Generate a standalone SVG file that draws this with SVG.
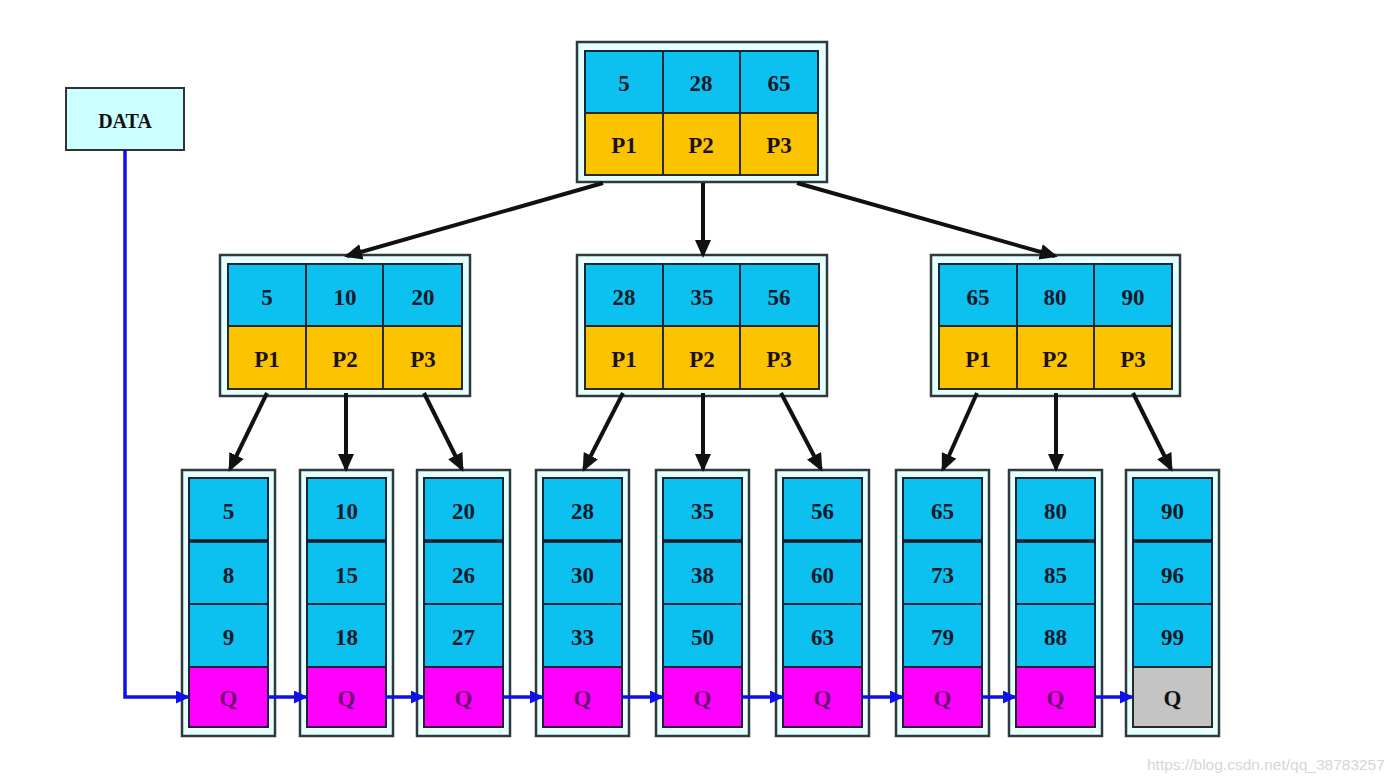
<svg xmlns="http://www.w3.org/2000/svg" width="1400" height="782" viewBox="0 0 1400 782">
<style>
.outer{fill:#e6ffff;stroke:#2f3a3a;stroke-width:2.5}
.k{fill:#0cc0f0;stroke:#13263a;stroke-width:2}
.p{fill:#fcc400;stroke:#2a2a20;stroke-width:2}
.q{fill:#ff00ff;stroke:#2a1a3a;stroke-width:2}
.g{fill:#c4c4c4;stroke:#2a2a2a;stroke-width:2}
.sep{stroke:#0d1a2a;stroke-width:3.5}
.t{font-family:"Liberation Serif","Times New Roman",serif;font-weight:bold;font-size:23px;text-anchor:middle;fill:#0d1a2a}
.tp{font-family:"Liberation Serif","Times New Roman",serif;font-weight:bold;font-size:23px;text-anchor:middle;fill:#1a1208}
.tq{font-family:"Liberation Serif","Times New Roman",serif;font-weight:bold;font-size:23px;text-anchor:middle;fill:#6a1070}
.tg{font-family:"Liberation Serif","Times New Roman",serif;font-weight:bold;font-size:23px;text-anchor:middle;fill:#111}
.blk{stroke:#111;stroke-width:4;fill:none;marker-end:url(#ab)}
.blu{stroke:#1010e8;stroke-width:3.5;fill:none;marker-end:url(#au)}
.wm{font-family:"Liberation Sans",Arial,sans-serif;font-size:15.5px;fill:#d6d6d6}
</style>
<defs>
<marker id="ab" markerUnits="userSpaceOnUse" markerWidth="18" markerHeight="16" refX="15" refY="8" orient="auto"><path d="M0,0 L18,8 L0,16 z" fill="#111"/></marker>
<marker id="au" markerUnits="userSpaceOnUse" markerWidth="14" markerHeight="13" refX="13" refY="6.5" orient="auto"><path d="M0,0 L14,6.5 L0,13 z" fill="#1010e8"/></marker>
</defs>
<rect width="1400" height="782" fill="#ffffff"/>

<g id="data">
<rect x="66" y="88" width="118" height="62" fill="#ccffff" stroke="#333" stroke-width="2"/>
<text class="tg" x="125" y="128" style="font-size:20px">DATA</text>
</g>

<g id="root">
<rect class="outer" x="577" y="42" width="250" height="140"/>
<rect class="k" x="585" y="51" width="78" height="62"/><rect class="k" x="663" y="51" width="77" height="62"/><rect class="k" x="740" y="51" width="78" height="62"/>
<rect class="p" x="585" y="113" width="78" height="62"/><rect class="p" x="663" y="113" width="77" height="62"/><rect class="p" x="740" y="113" width="78" height="62"/>
<text class="t" x="624" y="91">5</text><text class="t" x="701" y="91">28</text><text class="t" x="779" y="91">65</text>
<text class="tp" x="624" y="153">P1</text><text class="tp" x="701" y="153">P2</text><text class="tp" x="779" y="153">P3</text>
</g>

<g id="mid1">
<rect class="outer" x="220" y="255" width="250" height="141"/>
<rect class="k" x="228" y="264" width="78" height="62"/><rect class="k" x="306" y="264" width="77" height="62"/><rect class="k" x="383" y="264" width="79" height="62"/>
<rect class="p" x="228" y="326" width="78" height="63"/><rect class="p" x="306" y="326" width="77" height="63"/><rect class="p" x="383" y="326" width="79" height="63"/>
<text class="t" x="267" y="305">5</text><text class="t" x="345" y="305">10</text><text class="t" x="423" y="305">20</text>
<text class="tp" x="267" y="367">P1</text><text class="tp" x="345" y="367">P2</text><text class="tp" x="423" y="367">P3</text>
</g>

<g id="mid2">
<rect class="outer" x="577" y="255" width="250" height="141"/>
<rect class="k" x="585" y="264" width="78" height="62"/><rect class="k" x="663" y="264" width="77" height="62"/><rect class="k" x="740" y="264" width="79" height="62"/>
<rect class="p" x="585" y="326" width="78" height="63"/><rect class="p" x="663" y="326" width="77" height="63"/><rect class="p" x="740" y="326" width="79" height="63"/>
<text class="t" x="624" y="305">28</text><text class="t" x="702" y="305">35</text><text class="t" x="779" y="305">56</text>
<text class="tp" x="624" y="367">P1</text><text class="tp" x="702" y="367">P2</text><text class="tp" x="779" y="367">P3</text>
</g>

<g id="mid3">
<rect class="outer" x="931" y="255" width="249" height="141"/>
<rect class="k" x="939" y="264" width="78" height="62"/><rect class="k" x="1017" y="264" width="77" height="62"/><rect class="k" x="1094" y="264" width="78" height="62"/>
<rect class="p" x="939" y="326" width="78" height="63"/><rect class="p" x="1017" y="326" width="77" height="63"/><rect class="p" x="1094" y="326" width="78" height="63"/>
<text class="t" x="978" y="305">65</text><text class="t" x="1055" y="305">80</text><text class="t" x="1133" y="305">90</text>
<text class="tp" x="978" y="367">P1</text><text class="tp" x="1055" y="367">P2</text><text class="tp" x="1133" y="367">P3</text>
</g>

<g id="leaf1" transform="translate(182,0)">
<rect class="outer" x="0" y="470" width="93" height="266"/>
<rect class="k" x="7" y="478" width="79" height="63"/><rect class="k" x="7" y="541" width="79" height="63"/><rect class="k" x="7" y="604" width="79" height="63"/><rect class="q" x="7" y="667" width="79" height="60"/>
<line class="sep" x1="7" y1="541" x2="86" y2="541"/>
<text class="t" x="46.5" y="519">5</text><text class="t" x="46.5" y="583">8</text><text class="t" x="46.5" y="645">9</text><text class="tq" x="46.5" y="706">Q</text>
</g>
<g id="leaf2" transform="translate(300,0)">
<rect class="outer" x="0" y="470" width="93" height="266"/>
<rect class="k" x="7" y="478" width="79" height="63"/><rect class="k" x="7" y="541" width="79" height="63"/><rect class="k" x="7" y="604" width="79" height="63"/><rect class="q" x="7" y="667" width="79" height="60"/>
<line class="sep" x1="7" y1="541" x2="86" y2="541"/>
<text class="t" x="46.5" y="519">10</text><text class="t" x="46.5" y="583">15</text><text class="t" x="46.5" y="645">18</text><text class="tq" x="46.5" y="706">Q</text>
</g>
<g id="leaf3" transform="translate(417,0)">
<rect class="outer" x="0" y="470" width="93" height="266"/>
<rect class="k" x="7" y="478" width="79" height="63"/><rect class="k" x="7" y="541" width="79" height="63"/><rect class="k" x="7" y="604" width="79" height="63"/><rect class="q" x="7" y="667" width="79" height="60"/>
<line class="sep" x1="7" y1="541" x2="86" y2="541"/>
<text class="t" x="46.5" y="519">20</text><text class="t" x="46.5" y="583">26</text><text class="t" x="46.5" y="645">27</text><text class="tq" x="46.5" y="706">Q</text>
</g>
<g id="leaf4" transform="translate(536,0)">
<rect class="outer" x="0" y="470" width="93" height="266"/>
<rect class="k" x="7" y="478" width="79" height="63"/><rect class="k" x="7" y="541" width="79" height="63"/><rect class="k" x="7" y="604" width="79" height="63"/><rect class="q" x="7" y="667" width="79" height="60"/>
<line class="sep" x1="7" y1="541" x2="86" y2="541"/>
<text class="t" x="46.5" y="519">28</text><text class="t" x="46.5" y="583">30</text><text class="t" x="46.5" y="645">33</text><text class="tq" x="46.5" y="706">Q</text>
</g>
<g id="leaf5" transform="translate(656,0)">
<rect class="outer" x="0" y="470" width="93" height="266"/>
<rect class="k" x="7" y="478" width="79" height="63"/><rect class="k" x="7" y="541" width="79" height="63"/><rect class="k" x="7" y="604" width="79" height="63"/><rect class="q" x="7" y="667" width="79" height="60"/>
<line class="sep" x1="7" y1="541" x2="86" y2="541"/>
<text class="t" x="46.5" y="519">35</text><text class="t" x="46.5" y="583">38</text><text class="t" x="46.5" y="645">50</text><text class="tq" x="46.5" y="706">Q</text>
</g>
<g id="leaf6" transform="translate(776,0)">
<rect class="outer" x="0" y="470" width="93" height="266"/>
<rect class="k" x="7" y="478" width="79" height="63"/><rect class="k" x="7" y="541" width="79" height="63"/><rect class="k" x="7" y="604" width="79" height="63"/><rect class="q" x="7" y="667" width="79" height="60"/>
<line class="sep" x1="7" y1="541" x2="86" y2="541"/>
<text class="t" x="46.5" y="519">56</text><text class="t" x="46.5" y="583">60</text><text class="t" x="46.5" y="645">63</text><text class="tq" x="46.5" y="706">Q</text>
</g>
<g id="leaf7" transform="translate(896,0)">
<rect class="outer" x="0" y="470" width="93" height="266"/>
<rect class="k" x="7" y="478" width="79" height="63"/><rect class="k" x="7" y="541" width="79" height="63"/><rect class="k" x="7" y="604" width="79" height="63"/><rect class="q" x="7" y="667" width="79" height="60"/>
<line class="sep" x1="7" y1="541" x2="86" y2="541"/>
<text class="t" x="46.5" y="519">65</text><text class="t" x="46.5" y="583">73</text><text class="t" x="46.5" y="645">79</text><text class="tq" x="46.5" y="706">Q</text>
</g>
<g id="leaf8" transform="translate(1009,0)">
<rect class="outer" x="0" y="470" width="93" height="266"/>
<rect class="k" x="7" y="478" width="79" height="63"/><rect class="k" x="7" y="541" width="79" height="63"/><rect class="k" x="7" y="604" width="79" height="63"/><rect class="q" x="7" y="667" width="79" height="60"/>
<line class="sep" x1="7" y1="541" x2="86" y2="541"/>
<text class="t" x="46.5" y="519">80</text><text class="t" x="46.5" y="583">85</text><text class="t" x="46.5" y="645">88</text><text class="tq" x="46.5" y="706">Q</text>
</g>
<g id="leaf9" transform="translate(1126,0)">
<rect class="outer" x="0" y="470" width="93" height="266"/>
<rect class="k" x="7" y="478" width="79" height="63"/><rect class="k" x="7" y="541" width="79" height="63"/><rect class="k" x="7" y="604" width="79" height="63"/><rect class="g" x="7" y="667" width="79" height="60"/>
<line class="sep" x1="7" y1="541" x2="86" y2="541"/>
<text class="t" x="46.5" y="519">90</text><text class="t" x="46.5" y="583">96</text><text class="t" x="46.5" y="645">99</text><text class="tg" x="46.5" y="706">Q</text>
</g>

<g id="connectors">
<line class="blk" x1="603" y1="183" x2="347" y2="256"/>
<line class="blk" x1="703" y1="183" x2="703" y2="255"/>
<line class="blk" x1="797" y1="183" x2="1055" y2="256"/>
<line class="blk" x1="267" y1="393" x2="230" y2="469"/>
<line class="blk" x1="346" y1="393" x2="346" y2="469"/>
<line class="blk" x1="424" y1="393" x2="462" y2="469"/>
<line class="blk" x1="623" y1="393" x2="584" y2="469"/>
<line class="blk" x1="703" y1="393" x2="703" y2="469"/>
<line class="blk" x1="781" y1="393" x2="821" y2="469"/>
<line class="blk" x1="977" y1="393" x2="943" y2="469"/>
<line class="blk" x1="1056" y1="393" x2="1056" y2="469"/>
<line class="blk" x1="1133" y1="393" x2="1171" y2="469"/>
<polyline class="blu" points="125,150 125,697 189,697"/>
<line class="blu" x1="268" y1="697" x2="307" y2="697"/>
<line class="blu" x1="385" y1="697" x2="424" y2="697"/>
<line class="blu" x1="503" y1="697" x2="543" y2="697"/>
<line class="blu" x1="622" y1="697" x2="663" y2="697"/>
<line class="blu" x1="742" y1="697" x2="783" y2="697"/>
<line class="blu" x1="862" y1="697" x2="903" y2="697"/>
<line class="blu" x1="982" y1="697" x2="1016" y2="697"/>
<line class="blu" x1="1095" y1="697" x2="1133" y2="697"/>
</g>

<text class="wm" x="1147" y="770">https://blog.csdn.net/qq_38783257</text>
</svg>
